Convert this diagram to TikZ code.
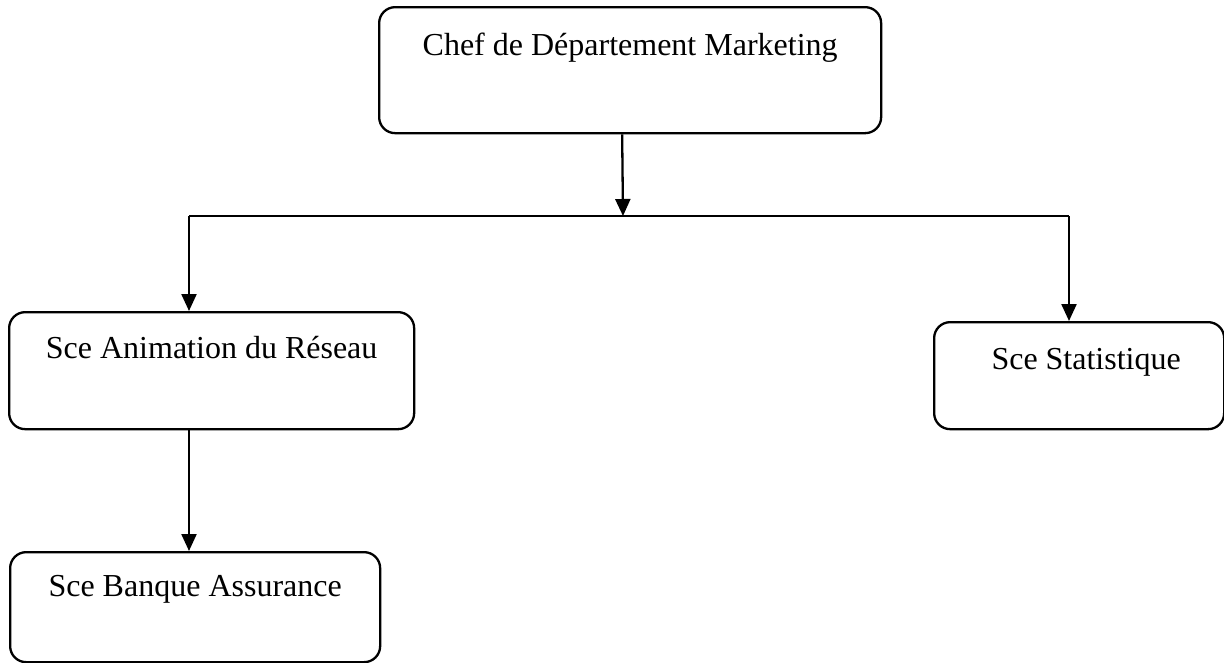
\documentclass[tikz,border=0pt]{standalone}
\usepackage{fontspec}
\setmainfont{Liberation Serif}
\usetikzlibrary{arrows.meta}
\begin{document}
\begin{tikzpicture}[x=1pt,y=-1pt,
  box/.style={draw=black, line width=2.3pt, rounded corners=16pt, rectangle,
    anchor=north west, inner xsep=0pt, inner ysep=0pt,
    font=\fontsize{32}{38}\selectfont},
  link/.style={draw=black, line width=2.3pt},
  arr/.style={link, -{Triangle[length=17pt,width=15pt]}}]
  \useasboundingbox (0,0) rectangle (1224,662);

  % boxes of the organisation chart
  \node[box, minimum width=502pt, text height=48pt, text depth=78pt]
    (chef) at (378,6) {Chef de Département Marketing};
  \node[box, minimum width=405pt, text height=46pt, text depth=71pt]
    (anim) at (8,311) {Sce Animation du Réseau};
  \node[box, minimum width=290pt, text height=47pt, text depth=60pt]
    (stat) at (933,321) {\hspace*{14pt}Sce Statistique};
  \node[box, minimum width=370pt, text height=44pt, text depth=66pt]
    (banq) at (9,551) {Sce Banque Assurance};

  % distribution bus
  \coordinate (bus) at (623,216);
  \coordinate (busL) at (189,216);
  \coordinate (busR) at (1069,216);
  \draw[link] (busL) -- (busR);

  % connectors
  \draw[arr] ([xshift=-8pt]chef.south) -- (bus);
  \draw[arr] (busL) -- (anim.north -| busL);
  \draw[arr] (busR) -- (stat.north -| busR);
  \draw[arr] (anim.south -| busL) -- (banq.north -| busL);
\end{tikzpicture}
\end{document}
